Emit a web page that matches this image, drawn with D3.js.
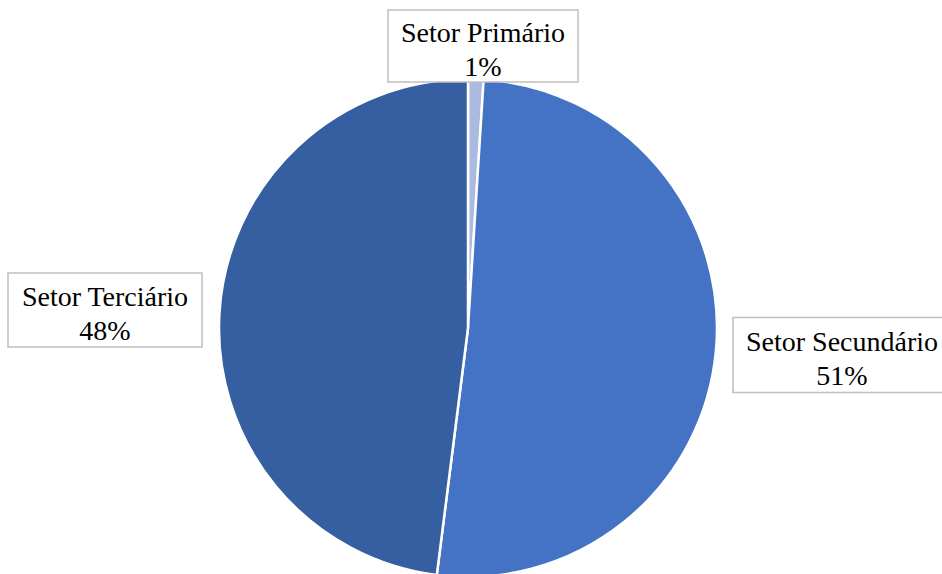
<!DOCTYPE html>
<html>
<head>
<meta charset="utf-8">
<script src="https://cdn.jsdelivr.net/npm/d3@7"></script>
</head>
<body style="margin:0;overflow:hidden;font-family:'Liberation Serif'">
<svg id="chart" width="942" height="574" style="display:block"></svg>
<script>
// Participação por setor (%)
const categories = ["Setor Primário", "Setor Secundário", "Setor Terciário"];
const values = [1, 51, 48];
const colors = ["#AABAE0", "#4472C4", "#365FA2"];

const width = 942, height = 574;
const cx = 468, cy = 328, radius = 249;

const svg = d3.select("#chart");
const g = svg.append("g").attr("transform", `translate(${cx},${cy})`);

const pie = d3.pie().sort(null).value(d => d.value);
const arc = d3.arc().innerRadius(0).outerRadius(radius);

const data = categories.map((c, i) => ({ name: c, value: values[i], color: colors[i] }));
const arcs = pie(data);

g.selectAll("path.slice")
  .data(arcs)
  .join("path")
  .attr("class", "slice")
  .attr("d", arc)
  .attr("fill", d => d.data.color)
  .attr("stroke", "#fff")
  .attr("stroke-width", 2.5)
  .attr("stroke-linejoin", "round");

// Label boxes: centre of each box on the page
const labelPos = {
  "Setor Primário":   { x: 483, y: 46,  w: 190, h: 72 },
  "Setor Secundário": { x: 842, y: 355, w: 218, h: 75 },
  "Setor Terciário":  { x: 105, y: 310, w: 194, h: 74 }
};

const total = d3.sum(values);

svg.selectAll("rect.box")
  .data(arcs)
  .join("rect")
  .attr("class", "box")
  .attr("x", d => labelPos[d.data.name].x - labelPos[d.data.name].w / 2)
  .attr("y", d => labelPos[d.data.name].y - labelPos[d.data.name].h / 2)
  .attr("width", d => labelPos[d.data.name].w)
  .attr("height", d => labelPos[d.data.name].h)
  .attr("fill", "#fff")
  .attr("stroke", "#BFBFBF")
  .attr("stroke-width", 1.5);

const lines = [
  { dy: -4, text: d => d.data.name },
  { dy: 30, text: d => Math.round(d.data.value / total * 100) + "%" }
];

lines.forEach((line, i) => {
  svg.selectAll("text.line" + i)
    .data(arcs)
    .join("text")
    .attr("class", "line" + i)
    .attr("x", d => labelPos[d.data.name].x)
    .attr("y", d => labelPos[d.data.name].y + line.dy)
    .attr("text-anchor", "middle")
    .style("font-family", '"Liberation Serif"')
    .style("font-size", "28px")
    .attr("fill", "#000")
    .text(line.text);
});
</script>
</body>
</html>
